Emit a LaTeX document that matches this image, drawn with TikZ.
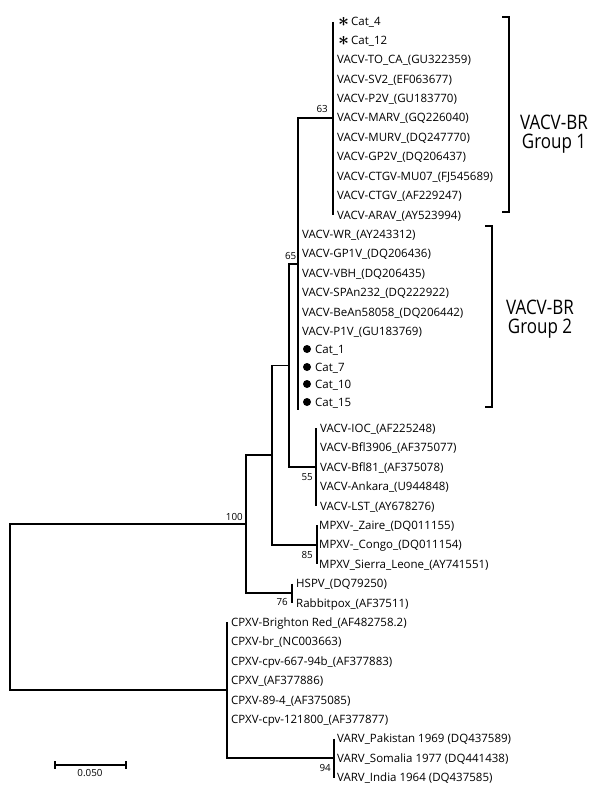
\documentclass[tikz,border=0pt]{standalone}
\usepackage{amsmath}
\usepackage{fontspec}
\setmainfont{Open Sans}
\usetikzlibrary{positioning}

\tikzset{
  branch/.style={line width=1.4pt},
  taxon/.style={anchor=west, inner sep=0pt, text height=8pt, text depth=0pt,
    font=\fontsize{11.5}{13}\selectfont},
  bootup/.style={anchor=south east, inner sep=0pt, font=\fontsize{9.8}{11}\selectfont},
  bootdown/.style={anchor=north east, inner sep=0pt, font=\fontsize{9.8}{11}\selectfont},
  bracket/.style={line width=1.4pt},
  grouplabel/.style={align=center, inner sep=0pt, font=\fontsize{20}{19}\selectfont},
  catdot/.style={fill=black},
}
\newcommand{\catstar}{\raisebox{-1pt}{\scalebox{1.6}{$\boldsymbol{\ast}$}}}

\begin{document}
\begin{tikzpicture}[x=1pt, y=-1pt]
    \useasboundingbox (0,0) rectangle (600,794);

    % Taxa
    \node[taxon] (t0) at (338,22) {\catstar\,Cat\_4};
    \node[taxon] (t1) at (338,41) {\catstar\,Cat\_12};
    \foreach \lab [count=\i from 2] in {VACV-TO\_CA\_(GU322359), VACV-SV2\_(EF063677),
        VACV-P2V\_(GU183770), VACV-MARV\_(GQ226040), VACV-MURV\_(DQ247770),
        VACV-GP2V\_(DQ206437), VACV-CTGV-MU07\_(FJ545689), VACV-CTGV\_(AF229247),
        VACV-ARAV\_(AY523994)}
        \node[taxon] (t\i) at (337,{21+19.4*\i}) {\lab};
    \foreach \lab [count=\i from 11] in {VACV-WR\_(AY243312), VACV-GP1V\_(DQ206436),
        VACV-VBH\_(DQ206435), VACV-SPAn232\_(DQ222922), VACV-BeAn58058\_(DQ206442),
        VACV-P1V\_(GU183769)}
        \node[taxon] (t\i) at (302,{21+19.4*\i}) {\lab};
    \foreach \lab/\yy [count=\i from 17] in {Cat\_1/349, Cat\_7/367, Cat\_10/384, Cat\_15/402}
    {
        \node[taxon] (t\i) at (315,\yy) {\lab};
        \fill[catdot] ([xshift=-8pt]t\i.west) circle (4pt);
    }
    \foreach \lab [count=\i from 21] in {VACV-IOC\_(AF225248), VACV-Bfl3906\_(AF375077),
        VACV-Bfl81\_(AF375078), VACV-Ankara\_(U944848), VACV-LST\_(AY678276)}
        \node[taxon] (t\i) at (320,{21+19.4*\i}) {\lab};
    \foreach \lab [count=\i from 26] in {MPXV-\_Zaire\_(DQ011155), MPXV-\_Congo\_(DQ011154),
        MPXV\_Sierra\_Leone\_(AY741551)}
        \node[taxon] (t\i) at (319,{21+19.4*\i}) {\lab};
    \foreach \lab [count=\i from 29] in {HSPV\_(DQ79250), Rabbitpox\_(AF37511)}
        \node[taxon] (t\i) at (296,{21+19.4*\i}) {\lab};
    \foreach \lab [count=\i from 31] in {CPXV-Brighton Red\_(AF482758.2), CPXV-br\_(NC003663),
        CPXV-cpv-667-94b\_(AF377883), CPXV\_(AF377886), CPXV-89-4\_(AF375085),
        CPXV-cpv-121800\_(AF377877)}
        \node[taxon] (t\i) at (231,{21+19.4*\i}) {\lab};
    \foreach \lab [count=\i from 37] in {VARV\_Pakistan 1969 (DQ437589),
        VARV\_Somalia 1977 (DQ441438), VARV\_India 1964 (DQ437585)}
        \node[taxon] (t\i) at (337,{21+19.4*\i}) {\lab};

    % Inner nodes
    \coordinate (root) at (10,607);
    \coordinate (n100) at (246,524);
    \coordinate (nA) at (272,455);
    \coordinate (nB) at (289,365.5);
    \coordinate (n65) at (298,264);
    \coordinate (n63) at (333,118);
    \coordinate (e65) at (298,410);
    \coordinate (n55) at (316,467);
    \coordinate (n85) at (317,545);
    \coordinate (n76) at (292,593);
    \coordinate (nCPXV) at (227,690);
    \coordinate (n94) at (334,758);

    % Branches
    \draw[branch] (root) |- (n100);
    \draw[branch] (root) |- (nCPXV);
    \draw[branch] (n100) |- (nA);
    \draw[branch] (n100) |- (n76);
    \draw[branch] (nA) |- (nB);
    \draw[branch] (nA) |- (n85);
    \draw[branch] (nB) |- (n65);
    \draw[branch] (nB) |- (n55);
    \draw[branch] (n65) |- (n63);
    \draw[branch] (n65) -- (e65);
    \draw[branch] (nCPXV) |- (n94);
    \draw[branch] (nCPXV) -- (nCPXV |- t31);
    \draw[branch] (n63 |- t0) -- (n63 |- t10);
    \draw[branch] (n55 |- t21) -- (n55 |- t25);
    \draw[branch] (n85 |- t26) -- (n85 |- t28);
    \draw[branch] (n76 |- t29) -- (n76 |- t30);
    \draw[branch] (n94 |- t37) -- (n94 |- t39);

    % Bootstrap values
    \node[bootup] at ([shift={(-5,-5)}]n63) {63};
    \node[bootup] at ([shift={(-1.5,-4)}]n65) {65};
    \node[bootup] at ([shift={(-3,-3)}]n100) {100};
    \node[bootdown] at ([shift={(-3,6)}]n55) {55};
    \node[bootdown] at ([shift={(-4,6)}]n85) {85};
    \node[bootdown] at ([shift={(-4,5)}]n76) {76};
    \node[bootdown] at ([shift={(-3,6)}]n94) {94};

    % Groups
    \draw[bracket] (502,17) -| (509,212) -- (502,212);
    \node[grouplabel] (g1) at (554,134) {\scalebox{0.85}[1]{VACV-BR}\\\scalebox{0.85}[1]{Group 1}};
    \draw[bracket] (485,226) -| (492,407) -- (485,407);
    \node[grouplabel] (g2) at (540,319) {\scalebox{0.85}[1]{VACV-BR}\\\scalebox{0.85}[1]{Group 2}};

    % Scale bar
    \coordinate (sb0) at (55,765);
    \coordinate (sb1) at (126,765);
    \draw[branch] (sb0) -- (sb1);
    \draw[branch] ([yshift=4pt]sb0) -- ([yshift=-4pt]sb0);
    \draw[branch] ([yshift=4pt]sb1) -- ([yshift=-4pt]sb1);
    \node[inner sep=0pt, font=\fontsize{9.8}{11}\selectfont] (sblabel) at (90,773.5) {0.050};

\end{tikzpicture}
\end{document}
